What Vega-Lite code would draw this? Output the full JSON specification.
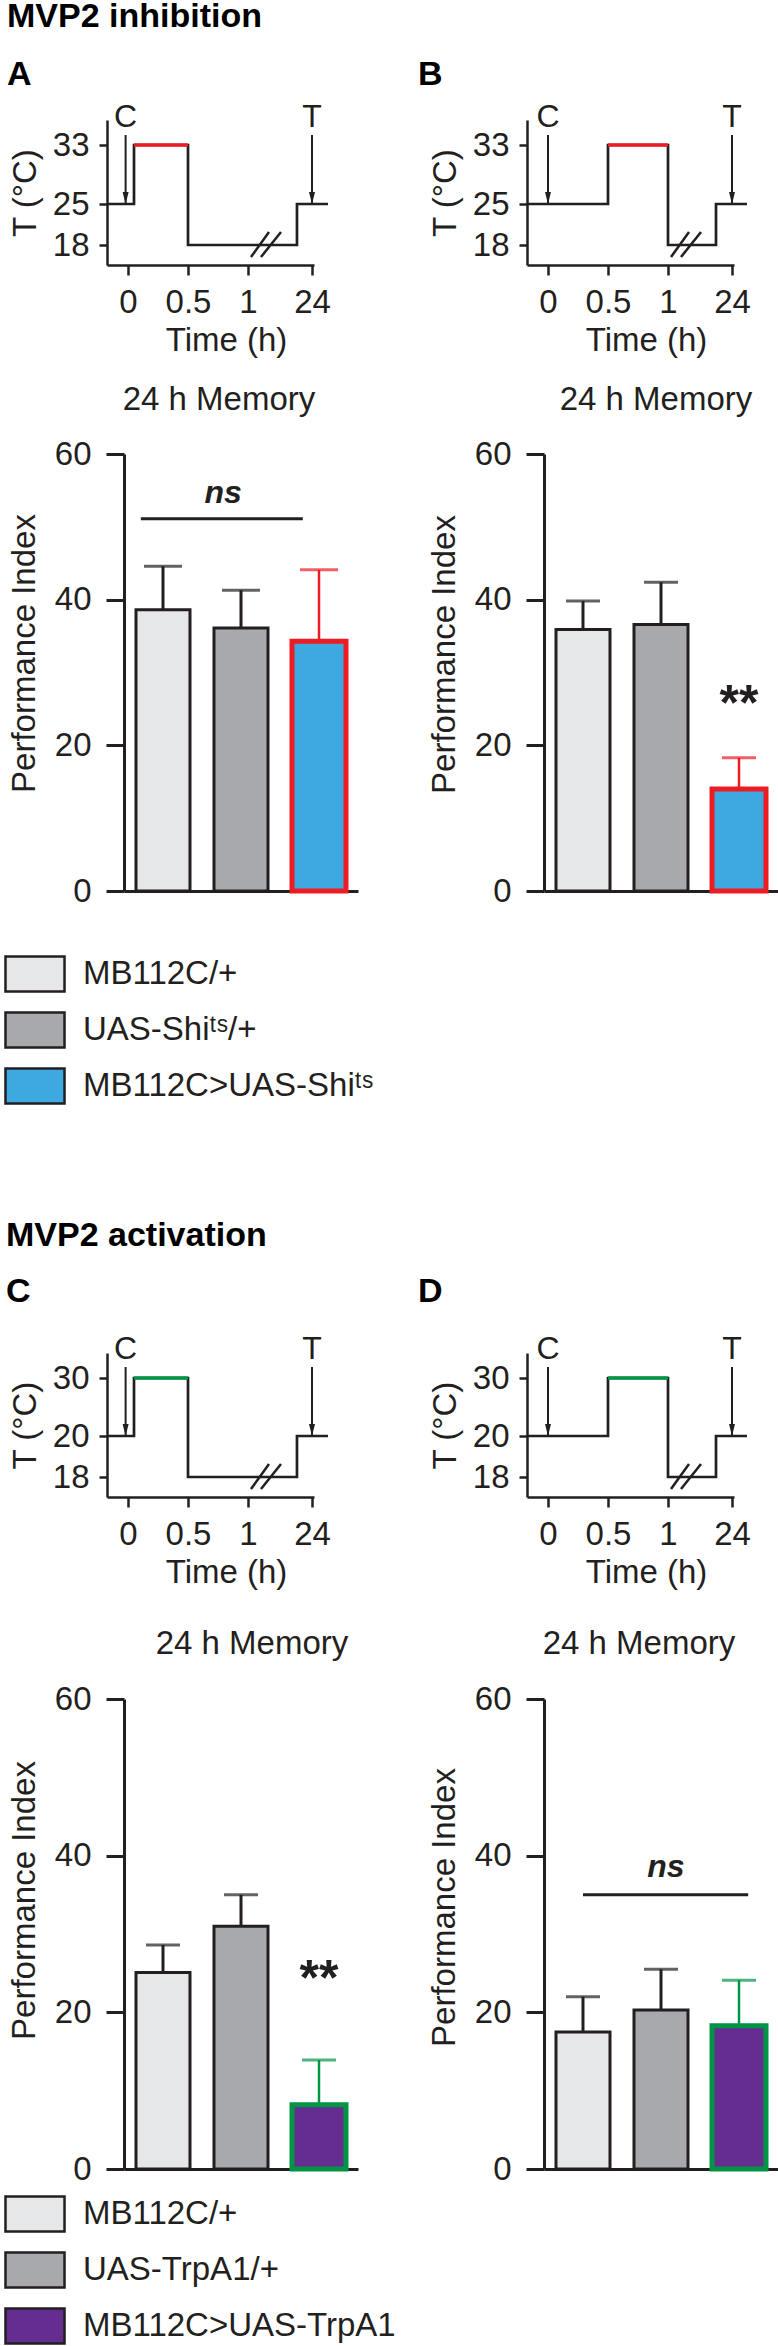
{
 "$schema": "https://vega.github.io/schema/vega-lite/v6.json",
 "background": "white",
 "padding": {"left": 6, "top": 0, "right": 0, "bottom": 0},
 "config": {
  "font": "Liberation Sans",
  "view": {"stroke": null},
  "axis": {"grid": false, "labelFontSize": 33, "labelColor": "#231f20", "titleFontSize": 33, "titleFontWeight": "normal", "titleColor": "#231f20", "domainColor": "#231f20", "tickColor": "#231f20", "labelFlush": false, "labelOverlap": false},
  "title": {"color": "#000000", "font": "Liberation Sans"},
  "text": {"color": "#231f20"}
 },
 "columns": 2,
 "spacing": {"row": 189, "column": 169},
 "bounds": "flush",
 "align": "each",
 "resolve": {"scale": {"x": "independent", "y": "independent", "fill": "independent"}, "axis": {"x": "independent", "y": "independent"}, "legend": {"fill": "independent"}},
 "concat": [
  {
   "width": 207, "height": 145,
   "title": {"text": "MVP2 inhibition", "subtitle": "A", "anchor": "start", "frame": "group", "dx": -100, "offset": 9, "fontSize": 34, "fontWeight": "bold", "subtitleFontSize": 34, "subtitleFontWeight": "bold", "subtitleColor": "#000000", "subtitleFont": "Liberation Sans", "subtitlePadding": 24},
   "encoding": {
    "x": {"field": "t", "type": "quantitative", "scale": {"domain": [-0.175, 0, 0.5, 1, 24, 24.72], "range": [0, 21, 81, 141, 205, 207], "zero": false, "nice": false}, "axis": {"values": [0, 0.5, 1, 24], "labelExpr": "'' + datum.value", "title": "Time (h)", "tickSize": 10, "tickWidth": 2.5, "domainWidth": 2.5, "labelPadding": 11, "titlePadding": 5, "titleX": 119}},
    "y": {"field": "temp", "type": "quantitative", "scale": {"domain": [14.6, 18, 25, 33, 36.4], "range": [145, 125, 84, 25, 0], "zero": false, "nice": false}, "axis": {"values": [18, 25, 33], "labelExpr": "'' + datum.value", "title": "T (°C)", "tickSize": 8, "tickWidth": 2.5, "domainWidth": 2.5, "labelPadding": 10, "titlePadding": 10}}
   },
   "layer": [
    {"data": {"values": [{"i": 1, "t": -0.175, "temp": 25}, {"i": 2, "t": 0.05, "temp": 25}, {"i": 3, "t": 0.05, "temp": 33}, {"i": 4, "t": 0.5, "temp": 33}, {"i": 5, "t": 0.5, "temp": 18}, {"i": 6, "t": 18.6, "temp": 18}, {"i": 7, "t": 18.6, "temp": 25}, {"i": 8, "t": 29.75, "temp": 25}]},
     "mark": {"type": "line", "color": "#231f20", "strokeWidth": 2.7, "strokeJoin": "miter"}, "encoding": {"order": {"field": "i", "type": "quantitative"}}},
    {"data": {"values": [{"t": 0.05, "temp": 33}, {"t": 0.5, "temp": 33}]}, "mark": {"type": "line", "color": "#ed1c24", "strokeWidth": 3.6}, "encoding": {}},
    {"data": {"values": [{"t": -0.02, "temp": 34.36, "temp2": 25, "label": "C"}, {"t": 24, "temp": 34.36, "temp2": 25, "label": "T"}]},
     "layer": [
      {"mark": {"type": "rule", "color": "#231f20", "strokeWidth": 2}, "encoding": {"y2": {"field": "temp2"}}},
      {"mark": {"type": "text", "fontSize": 32, "dy": -8, "baseline": "alphabetic", "align": "center"}, "encoding": {"text": {"field": "label"}}}
     ]},
    {"data": {"values": [{"t": -0.02, "temp": 25}, {"t": 24, "temp": 25}]}, "mark": {"type": "point", "shape": "M0,0L-0.5,-2L0.5,-2Z", "size": 144, "filled": true, "color": "#231f20", "opacity": 1, "strokeWidth": 0}, "encoding": {}},
    {"data": {"values": [{"t": 2.08, "t2": 8.55, "temp": 15.96, "temp2": 20.22}, {"t": 5.67, "t2": 12.86, "temp": 15.96, "temp2": 20.22}]}, "mark": {"type": "rule", "color": "#231f20", "strokeWidth": 2.5}, "encoding": {"x2": {"field": "t2"}, "y2": {"field": "temp2"}}}
   ]
  },
  {
   "width": 207, "height": 145,
   "title": {"text": "B", "anchor": "start", "frame": "group", "dx": -109, "offset": 9, "fontSize": 34, "fontWeight": "bold"},
   "encoding": {
    "x": {"field": "t", "type": "quantitative", "scale": {"domain": [-0.175, 0, 0.5, 1, 24, 24.72], "range": [0, 21, 81, 141, 205, 207], "zero": false, "nice": false}, "axis": {"values": [0, 0.5, 1, 24], "labelExpr": "'' + datum.value", "title": "Time (h)", "tickSize": 10, "tickWidth": 2.5, "domainWidth": 2.5, "labelPadding": 11, "titlePadding": 5, "titleX": 119}},
    "y": {"field": "temp", "type": "quantitative", "scale": {"domain": [14.6, 18, 25, 33, 36.4], "range": [145, 125, 84, 25, 0], "zero": false, "nice": false}, "axis": {"values": [18, 25, 33], "labelExpr": "'' + datum.value", "title": "T (°C)", "tickSize": 8, "tickWidth": 2.5, "domainWidth": 2.5, "labelPadding": 10, "titlePadding": 10}}
   },
   "layer": [
    {"data": {"values": [{"i": 1, "t": -0.175, "temp": 25}, {"i": 2, "t": 0.5, "temp": 25}, {"i": 3, "t": 0.5, "temp": 33}, {"i": 4, "t": 1, "temp": 33}, {"i": 5, "t": 1, "temp": 18}, {"i": 6, "t": 18.25, "temp": 18}, {"i": 7, "t": 18.25, "temp": 25}, {"i": 8, "t": 29.4, "temp": 25}]},
     "mark": {"type": "line", "color": "#231f20", "strokeWidth": 2.7, "strokeJoin": "miter"}, "encoding": {"order": {"field": "i", "type": "quantitative"}}},
    {"data": {"values": [{"t": 0.5, "temp": 33}, {"t": 1, "temp": 33}]}, "mark": {"type": "line", "color": "#ed1c24", "strokeWidth": 3.6}, "encoding": {}},
    {"data": {"values": [{"t": 0, "temp": 34.36, "temp2": 25, "label": "C"}, {"t": 24, "temp": 34.36, "temp2": 25, "label": "T"}]},
     "layer": [
      {"mark": {"type": "rule", "color": "#231f20", "strokeWidth": 2}, "encoding": {"y2": {"field": "temp2"}}},
      {"mark": {"type": "text", "fontSize": 32, "dy": -8, "baseline": "alphabetic", "align": "center"}, "encoding": {"text": {"field": "label"}}}
     ]},
    {"data": {"values": [{"t": 0, "temp": 25}, {"t": 24, "temp": 25}]}, "mark": {"type": "point", "shape": "M0,0L-0.5,-2L0.5,-2Z", "size": 144, "filled": true, "color": "#231f20", "opacity": 1, "strokeWidth": 0}, "encoding": {}},
    {"data": {"values": [{"t": 2.08, "t2": 8.55, "temp": 15.96, "temp2": 20.22}, {"t": 5.67, "t2": 12.86, "temp": 15.96, "temp2": 20.22}]}, "mark": {"type": "rule", "color": "#231f20", "strokeWidth": 2.5}, "encoding": {"x2": {"field": "t2"}, "y2": {"field": "temp2"}}}
   ]
  },
  {
   "width": 251, "height": 437,
   "title": {"text": "24 h Memory", "anchor": "middle", "frame": "group", "dx": -13.5, "offset": 21, "fontSize": 33, "fontWeight": "normal", "color": "#231f20"},
   "data": {"values": [{"genotype": "MB112C/+", "pi": 38.6, "upper": 44.6}, {"genotype": "UAS-Shiᵗˢ/+", "pi": 36.1, "upper": 41.3}, {"genotype": "MB112C>UAS-Shiᵗˢ", "pi": 34.3, "upper": 44.1}]},
   "encoding": {
    "x": {"field": "genotype", "type": "nominal", "sort": null, "scale": {"domain": ["MB112C/+", "UAS-Shiᵗˢ/+", "MB112C>UAS-Shiᵗˢ"], "range": [17, 251], "paddingInner": 0.3077, "paddingOuter": 0.1538}, "axis": {"labels": false, "ticks": false, "title": null, "domainWidth": 3}},
    "y": {"field": "pi", "type": "quantitative", "scale": {"domain": [0, 60], "zero": false, "nice": false}, "axis": {"values": [0, 20, 40, 60], "title": "Performance Index", "offset": -17, "tickSize": 18, "tickWidth": 3, "domainWidth": 3, "labelPadding": 15, "titlePadding": 13, "titleY": 199}}
   },
   "layer": [
    {"mark": {"type": "rule"}, "encoding": {"y2": {"field": "upper"}, "color": {"condition": {"test": "datum.genotype == 'MB112C>UAS-Shiᵗˢ'", "value": "#ed1c24"}, "value": "#231f20"}, "strokeWidth": {"condition": {"test": "datum.genotype == 'MB112C>UAS-Shiᵗˢ'", "value": 2.5}, "value": 3}}},
    {"mark": {"type": "bar"}, "encoding": {
      "fill": {"field": "genotype", "type": "nominal", "sort": null, "scale": {"domain": ["MB112C/+", "UAS-Shiᵗˢ/+", "MB112C>UAS-Shiᵗˢ"], "range": ["#e6e7e8", "#a7a9ac", "#3da9e0"]},
       "legend": {"orient": "none", "legendX": -91, "legendY": 501, "title": null, "direction": "vertical", "columns": 1, "symbolType": "M-1.686,-1H1.686V1H-1.686Z", "symbolSize": 1225, "symbolStrokeColor": "#231f20", "symbolStrokeWidth": 2.5, "symbolOpacity": 1, "labelFontSize": 33, "labelColor": "#231f20", "labelFont": "Liberation Sans", "labelOffset": 29, "rowPadding": 10, "labelLimit": 1000, "padding": 0}},
      "stroke": {"condition": {"test": "datum.genotype == 'MB112C>UAS-Shiᵗˢ'", "value": "#ed1c24"}, "value": "#231f20"},
      "strokeWidth": {"condition": {"test": "datum.genotype == 'MB112C>UAS-Shiᵗˢ'", "value": 5}, "value": 3}}},
    {"mark": {"type": "tick", "size": 38, "thickness": 3, "orient": "horizontal"}, "encoding": {"y": {"field": "upper", "type": "quantitative"}, "color": {"condition": {"test": "datum.genotype == 'MB112C>UAS-Shiᵗˢ'", "value": "#ed1c24"}, "value": "#231f20"}}},
    {"data": {"values": [{"genotype": "MB112C/+", "genotype2": "MB112C>UAS-Shiᵗˢ", "pi": 51.1}]}, "mark": {"type": "rule", "color": "#231f20", "strokeWidth": 3}, "encoding": {"x": {"field": "genotype", "type": "nominal", "sort": null, "bandPosition": 0.09}, "x2": {"field": "genotype2", "bandPosition": 0.2}}},
    {"data": {"values": [{"genotype": "UAS-Shiᵗˢ/+", "pi": 53.3, "label": "ns"}]}, "mark": {"type": "text", "fontSize": 32, "fontWeight": "bold", "fontStyle": "italic", "align": "center", "baseline": "alphabetic"}, "encoding": {"x": {"field": "genotype", "type": "nominal", "sort": null, "bandPosition": 0.17}, "text": {"field": "label"}}}
   ]
  },
  {
   "width": 251, "height": 437,
   "title": {"text": "24 h Memory", "anchor": "middle", "frame": "group", "dx": 3.5, "offset": 21, "fontSize": 33, "fontWeight": "normal", "color": "#231f20"},
   "data": {"values": [{"genotype": "MB112C/+", "pi": 35.9, "upper": 39.8}, {"genotype": "UAS-Shiᵗˢ/+", "pi": 36.6, "upper": 42.4}, {"genotype": "MB112C>UAS-Shiᵗˢ", "pi": 14.0, "upper": 18.3}]},
   "encoding": {
    "x": {"field": "genotype", "type": "nominal", "sort": null, "scale": {"domain": ["MB112C/+", "UAS-Shiᵗˢ/+", "MB112C>UAS-Shiᵗˢ"], "range": [17, 251], "paddingInner": 0.3077, "paddingOuter": 0.1538}, "axis": {"labels": false, "ticks": false, "title": null, "domainWidth": 3}},
    "y": {"field": "pi", "type": "quantitative", "scale": {"domain": [0, 60], "zero": false, "nice": false}, "axis": {"values": [0, 20, 40, 60], "title": "Performance Index", "offset": -17, "tickSize": 18, "tickWidth": 3, "domainWidth": 3, "labelPadding": 15, "titlePadding": 13, "titleY": 200}}
   },
   "layer": [
    {"mark": {"type": "rule"}, "encoding": {"y2": {"field": "upper"}, "color": {"condition": {"test": "datum.genotype == 'MB112C>UAS-Shiᵗˢ'", "value": "#ed1c24"}, "value": "#231f20"}, "strokeWidth": {"condition": {"test": "datum.genotype == 'MB112C>UAS-Shiᵗˢ'", "value": 2.5}, "value": 3}}},
    {"mark": {"type": "bar"}, "encoding": {
      "fill": {"field": "genotype", "type": "nominal", "sort": null, "scale": {"domain": ["MB112C/+", "UAS-Shiᵗˢ/+", "MB112C>UAS-Shiᵗˢ"], "range": ["#e6e7e8", "#a7a9ac", "#3da9e0"]}, "legend": null},
      "stroke": {"condition": {"test": "datum.genotype == 'MB112C>UAS-Shiᵗˢ'", "value": "#ed1c24"}, "value": "#231f20"},
      "strokeWidth": {"condition": {"test": "datum.genotype == 'MB112C>UAS-Shiᵗˢ'", "value": 5}, "value": 3}}},
    {"mark": {"type": "tick", "size": 34, "thickness": 3, "orient": "horizontal"}, "encoding": {"y": {"field": "upper", "type": "quantitative"}, "color": {"condition": {"test": "datum.genotype == 'MB112C>UAS-Shiᵗˢ'", "value": "#ed1c24"}, "value": "#231f20"}}},
    {"data": {"values": [{"genotype": "MB112C>UAS-Shiᵗˢ", "pi": 23.5, "label": "**"}]}, "mark": {"type": "text", "fontSize": 50, "fontWeight": "bold", "align": "center", "baseline": "alphabetic"}, "encoding": {"x": {"field": "genotype", "type": "nominal", "sort": null}, "text": {"field": "label"}}}
   ]
  },
  {
   "width": 207, "height": 463,
   "title": {"text": "MVP2 activation", "subtitle": "C", "anchor": "start", "frame": "group", "dx": -101, "offset": -229, "fontSize": 34, "fontWeight": "bold", "subtitleFontSize": 34, "subtitleFontWeight": "bold", "subtitleColor": "#000000", "subtitleFont": "Liberation Sans", "subtitlePadding": 22},
   "encoding": {
    "x": {"field": "t", "type": "quantitative", "scale": {"domain": [-0.175, 0, 0.5, 1, 24, 24.72], "range": [0, 21, 81, 141, 205, 207], "zero": false, "nice": false}, "axis": {"values": [0, 0.5, 1, 24], "labelExpr": "'' + datum.value", "title": "Time (h)", "offset": -46, "tickSize": 10, "tickWidth": 2.5, "domainWidth": 2.5, "labelPadding": 11, "titlePadding": 5, "titleX": 119}},
    "y": {"field": "temp", "type": "quantitative", "scale": {"domain": [17.02, 18, 20, 30, 34.31], "range": [417, 397, 356, 298, 273], "zero": false, "nice": false}, "axis": {"values": [18, 20, 30], "labelExpr": "'' + datum.value", "title": "T (°C)", "tickSize": 8, "tickWidth": 2.5, "domainWidth": 2.5, "labelPadding": 10, "titlePadding": 10}}
   },
   "layer": [
    {"data": {"values": [{"i": 1, "t": -0.175, "temp": 20}, {"i": 2, "t": 0.05, "temp": 20}, {"i": 3, "t": 0.05, "temp": 30}, {"i": 4, "t": 0.5, "temp": 30}, {"i": 5, "t": 0.5, "temp": 18}, {"i": 6, "t": 18.6, "temp": 18}, {"i": 7, "t": 18.6, "temp": 20}, {"i": 8, "t": 29.75, "temp": 20}]},
     "mark": {"type": "line", "color": "#231f20", "strokeWidth": 2.7, "strokeJoin": "miter"}, "encoding": {"order": {"field": "i", "type": "quantitative"}}},
    {"data": {"values": [{"t": 0.05, "temp": 30}, {"t": 0.5, "temp": 30}]}, "mark": {"type": "line", "color": "#009444", "strokeWidth": 3.6}, "encoding": {}},
    {"data": {"values": [{"t": -0.02, "temp": 31.9, "temp2": 20, "label": "C"}, {"t": 24, "temp": 31.9, "temp2": 20, "label": "T"}]},
     "layer": [
      {"mark": {"type": "rule", "color": "#231f20", "strokeWidth": 2}, "encoding": {"y2": {"field": "temp2"}}},
      {"mark": {"type": "text", "fontSize": 32, "dy": -8, "baseline": "alphabetic", "align": "center"}, "encoding": {"text": {"field": "label"}}}
     ]},
    {"data": {"values": [{"t": -0.02, "temp": 20}, {"t": 24, "temp": 20}]}, "mark": {"type": "point", "shape": "M0,0L-0.5,-2L0.5,-2Z", "size": 144, "filled": true, "color": "#231f20", "opacity": 1, "strokeWidth": 0}, "encoding": {}},
    {"data": {"values": [{"t": 2.08, "t2": 8.55, "temp": 17.41, "temp2": 18.63}, {"t": 5.67, "t2": 12.86, "temp": 17.41, "temp2": 18.63}]}, "mark": {"type": "rule", "color": "#231f20", "strokeWidth": 2.5}, "encoding": {"x2": {"field": "t2"}, "y2": {"field": "temp2"}}}
   ]
  },
  {
   "width": 207, "height": 463,
   "title": {"text": "D", "anchor": "start", "frame": "group", "dx": -109, "offset": -229, "fontSize": 34, "fontWeight": "bold"},
   "encoding": {
    "x": {"field": "t", "type": "quantitative", "scale": {"domain": [-0.175, 0, 0.5, 1, 24, 24.72], "range": [0, 21, 81, 141, 205, 207], "zero": false, "nice": false}, "axis": {"values": [0, 0.5, 1, 24], "labelExpr": "'' + datum.value", "title": "Time (h)", "offset": -46, "tickSize": 10, "tickWidth": 2.5, "domainWidth": 2.5, "labelPadding": 11, "titlePadding": 5, "titleX": 119}},
    "y": {"field": "temp", "type": "quantitative", "scale": {"domain": [17.02, 18, 20, 30, 34.31], "range": [417, 397, 356, 298, 273], "zero": false, "nice": false}, "axis": {"values": [18, 20, 30], "labelExpr": "'' + datum.value", "title": "T (°C)", "tickSize": 8, "tickWidth": 2.5, "domainWidth": 2.5, "labelPadding": 10, "titlePadding": 10}}
   },
   "layer": [
    {"data": {"values": [{"i": 1, "t": -0.175, "temp": 20}, {"i": 2, "t": 0.5, "temp": 20}, {"i": 3, "t": 0.5, "temp": 30}, {"i": 4, "t": 1, "temp": 30}, {"i": 5, "t": 1, "temp": 18}, {"i": 6, "t": 18.25, "temp": 18}, {"i": 7, "t": 18.25, "temp": 20}, {"i": 8, "t": 29.4, "temp": 20}]},
     "mark": {"type": "line", "color": "#231f20", "strokeWidth": 2.7, "strokeJoin": "miter"}, "encoding": {"order": {"field": "i", "type": "quantitative"}}},
    {"data": {"values": [{"t": 0.5, "temp": 30}, {"t": 1, "temp": 30}]}, "mark": {"type": "line", "color": "#009444", "strokeWidth": 3.6}, "encoding": {}},
    {"data": {"values": [{"t": 0, "temp": 31.9, "temp2": 20, "label": "C"}, {"t": 24, "temp": 31.9, "temp2": 20, "label": "T"}]},
     "layer": [
      {"mark": {"type": "rule", "color": "#231f20", "strokeWidth": 2}, "encoding": {"y2": {"field": "temp2"}}},
      {"mark": {"type": "text", "fontSize": 32, "dy": -8, "baseline": "alphabetic", "align": "center"}, "encoding": {"text": {"field": "label"}}}
     ]},
    {"data": {"values": [{"t": 0, "temp": 20}, {"t": 24, "temp": 20}]}, "mark": {"type": "point", "shape": "M0,0L-0.5,-2L0.5,-2Z", "size": 144, "filled": true, "color": "#231f20", "opacity": 1, "strokeWidth": 0}, "encoding": {}},
    {"data": {"values": [{"t": 2.08, "t2": 8.55, "temp": 17.41, "temp2": 18.63}, {"t": 5.67, "t2": 12.86, "temp": 17.41, "temp2": 18.63}]}, "mark": {"type": "rule", "color": "#231f20", "strokeWidth": 2.5}, "encoding": {"x2": {"field": "t2"}, "y2": {"field": "temp2"}}}
   ]
  },
  {
   "width": 251, "height": 437,
   "title": {"text": "24 h Memory", "anchor": "middle", "frame": "group", "dx": 19.5, "offset": 22, "fontSize": 33, "fontWeight": "normal", "color": "#231f20"},
   "data": {"values": [{"genotype": "MB112C/+", "pi": 25.1, "upper": 28.6}, {"genotype": "UAS-TrpA1/+", "pi": 31.0, "upper": 35.0}, {"genotype": "MB112C>UAS-TrpA1", "pi": 8.2, "upper": 13.9}]},
   "encoding": {
    "x": {"field": "genotype", "type": "nominal", "sort": null, "scale": {"domain": ["MB112C/+", "UAS-TrpA1/+", "MB112C>UAS-TrpA1"], "range": [17, 251], "paddingInner": 0.3077, "paddingOuter": 0.1538}, "axis": {"labels": false, "ticks": false, "title": null, "domainWidth": 3}},
    "y": {"field": "pi", "type": "quantitative", "scale": {"domain": [0, 60], "range": [437, -33], "zero": false, "nice": false}, "axis": {"values": [0, 20, 40, 60], "title": "Performance Index", "offset": -17, "tickSize": 18, "tickWidth": 3, "domainWidth": 3, "labelPadding": 15, "titlePadding": 13, "titleY": 168}}
   },
   "layer": [
    {"mark": {"type": "rule"}, "encoding": {"y2": {"field": "upper"}, "color": {"condition": {"test": "datum.genotype == 'MB112C>UAS-TrpA1'", "value": "#009444"}, "value": "#231f20"}, "strokeWidth": {"condition": {"test": "datum.genotype == 'MB112C>UAS-TrpA1'", "value": 2.5}, "value": 3}}},
    {"mark": {"type": "bar"}, "encoding": {
      "fill": {"field": "genotype", "type": "nominal", "sort": null, "scale": {"domain": ["MB112C/+", "UAS-TrpA1/+", "MB112C>UAS-TrpA1"], "range": ["#e6e7e8", "#a7a9ac", "#662d91"]},
       "legend": {"orient": "none", "legendX": -91, "legendY": 463, "title": null, "direction": "vertical", "columns": 1, "symbolType": "M-1.686,-1H1.686V1H-1.686Z", "symbolSize": 1225, "symbolStrokeColor": "#231f20", "symbolStrokeWidth": 2.5, "symbolOpacity": 1, "labelFontSize": 33, "labelColor": "#231f20", "labelFont": "Liberation Sans", "labelOffset": 29, "rowPadding": 10, "labelLimit": 1000, "padding": 0}},
      "stroke": {"condition": {"test": "datum.genotype == 'MB112C>UAS-TrpA1'", "value": "#009444"}, "value": "#231f20"},
      "strokeWidth": {"condition": {"test": "datum.genotype == 'MB112C>UAS-TrpA1'", "value": 5}, "value": 3}}},
    {"mark": {"type": "tick", "size": 34, "thickness": 3, "orient": "horizontal"}, "encoding": {"y": {"field": "upper", "type": "quantitative"}, "color": {"condition": {"test": "datum.genotype == 'MB112C>UAS-TrpA1'", "value": "#009444"}, "value": "#231f20"}}},
    {"data": {"values": [{"genotype": "MB112C>UAS-TrpA1", "pi": 22.2, "label": "**"}]}, "mark": {"type": "text", "fontSize": 50, "fontWeight": "bold", "align": "center", "baseline": "alphabetic"}, "encoding": {"x": {"field": "genotype", "type": "nominal", "sort": null}, "text": {"field": "label"}}}
   ]
  },
  {
   "width": 251, "height": 437,
   "title": {"text": "24 h Memory", "anchor": "middle", "frame": "group", "dx": -13.5, "offset": 22, "fontSize": 33, "fontWeight": "normal", "color": "#231f20"},
   "data": {"values": [{"genotype": "MB112C/+", "pi": 17.5, "upper": 22.0}, {"genotype": "UAS-TrpA1/+", "pi": 20.3, "upper": 25.5}, {"genotype": "MB112C>UAS-TrpA1", "pi": 18.3, "upper": 24.1}]},
   "encoding": {
    "x": {"field": "genotype", "type": "nominal", "sort": null, "scale": {"domain": ["MB112C/+", "UAS-TrpA1/+", "MB112C>UAS-TrpA1"], "range": [17, 251], "paddingInner": 0.3077, "paddingOuter": 0.1538}, "axis": {"labels": false, "ticks": false, "title": null, "domainWidth": 3}},
    "y": {"field": "pi", "type": "quantitative", "scale": {"domain": [0, 60], "range": [437, -33], "zero": false, "nice": false}, "axis": {"values": [0, 20, 40, 60], "title": "Performance Index", "offset": -17, "tickSize": 18, "tickWidth": 3, "domainWidth": 3, "labelPadding": 15, "titlePadding": 13, "titleY": 175}}
   },
   "layer": [
    {"mark": {"type": "rule"}, "encoding": {"y2": {"field": "upper"}, "color": {"condition": {"test": "datum.genotype == 'MB112C>UAS-TrpA1'", "value": "#009444"}, "value": "#231f20"}, "strokeWidth": {"condition": {"test": "datum.genotype == 'MB112C>UAS-TrpA1'", "value": 2.5}, "value": 3}}},
    {"mark": {"type": "bar"}, "encoding": {
      "fill": {"field": "genotype", "type": "nominal", "sort": null, "scale": {"domain": ["MB112C/+", "UAS-TrpA1/+", "MB112C>UAS-TrpA1"], "range": ["#e6e7e8", "#a7a9ac", "#662d91"]}, "legend": null},
      "stroke": {"condition": {"test": "datum.genotype == 'MB112C>UAS-TrpA1'", "value": "#009444"}, "value": "#231f20"},
      "strokeWidth": {"condition": {"test": "datum.genotype == 'MB112C>UAS-TrpA1'", "value": 5}, "value": 3}}},
    {"mark": {"type": "tick", "size": 34, "thickness": 3, "orient": "horizontal"}, "encoding": {"y": {"field": "upper", "type": "quantitative"}, "color": {"condition": {"test": "datum.genotype == 'MB112C>UAS-TrpA1'", "value": "#009444"}, "value": "#231f20"}}},
    {"data": {"values": [{"genotype": "MB112C/+", "genotype2": "MB112C>UAS-TrpA1", "pi": 35.0}]}, "mark": {"type": "rule", "color": "#231f20", "strokeWidth": 3}, "encoding": {"x": {"field": "genotype", "type": "nominal", "sort": null, "bandPosition": 0.5}, "x2": {"field": "genotype2", "bandPosition": 0.67}}},
    {"data": {"values": [{"genotype": "UAS-TrpA1/+", "pi": 37.3, "label": "ns"}]}, "mark": {"type": "text", "fontSize": 32, "fontWeight": "bold", "fontStyle": "italic", "align": "center", "baseline": "alphabetic"}, "encoding": {"x": {"field": "genotype", "type": "nominal", "sort": null, "bandPosition": 0.59}, "text": {"field": "label"}}}
   ]
  }
 ]
}
